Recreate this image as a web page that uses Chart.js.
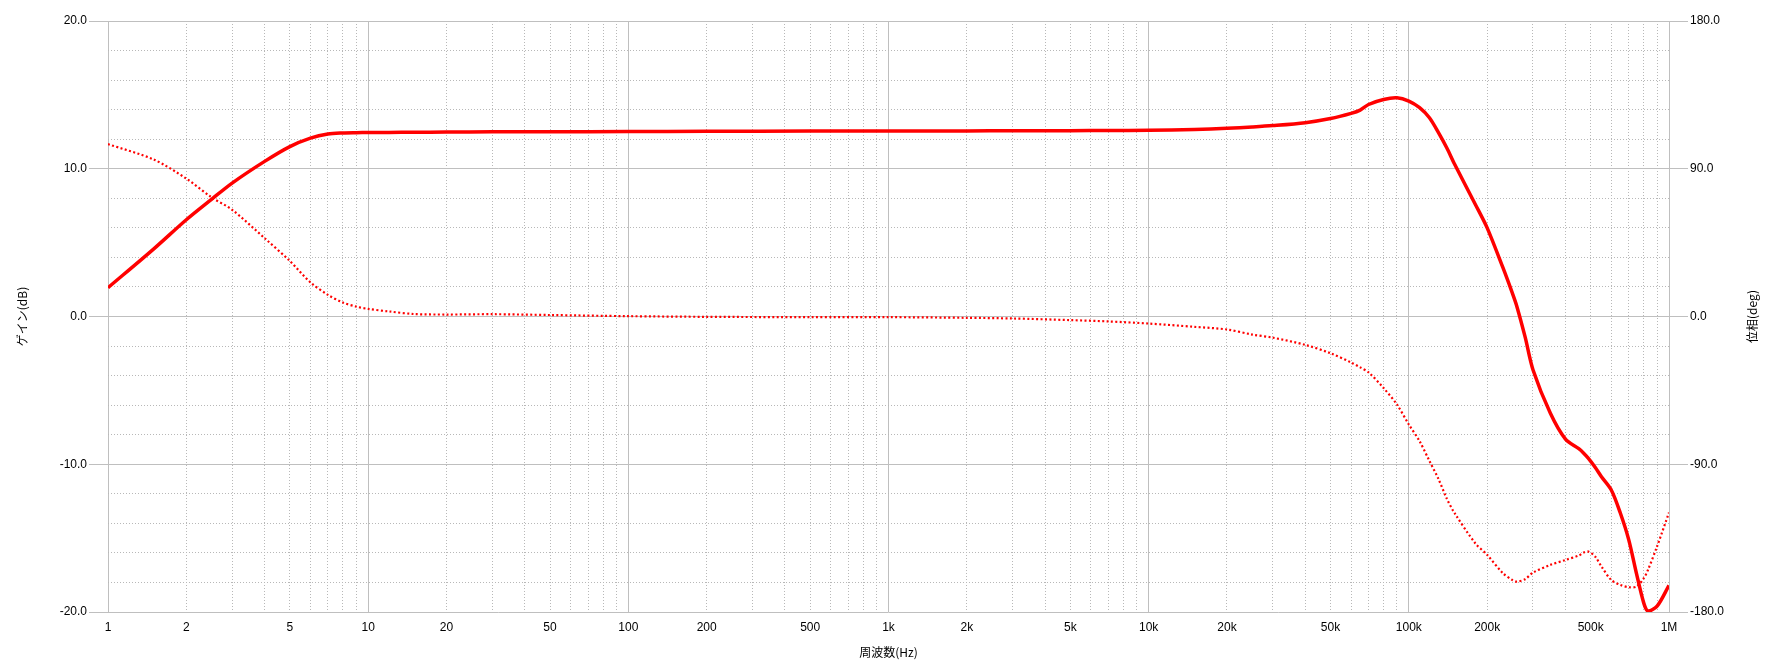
<!DOCTYPE html>
<html>
<head>
<meta charset="utf-8">
<script src="https://cdn.jsdelivr.net/npm/chart.js@4.4.1/dist/chart.umd.min.js"></script>
<style>
  body { margin: 0; background: #fff; }
  #wrap { width: 1780px; height: 670px; }
</style>
</head>
<body>
<div id="wrap"><canvas id="bode" width="1780" height="670"></canvas></div>
<script>
// frequency points (Hz)
var freq = [1, 1.5, 2, 2.5, 3, 4, 5, 6, 7, 8, 9, 10, 12, 15, 20, 30, 50, 100, 200, 500,
    1000, 2000, 3000, 5000, 7000, 10000, 15000, 20000, 25000, 30000, 40000, 50000,
    60000, 65000, 70000, 80000, 90000, 100000, 110000, 120000, 130000, 140000, 150000,
    180000, 200000, 230000, 250000, 260000, 280000, 300000, 350000, 400000, 450000, 470000,
    490000, 520000, 550000, 600000, 650000, 700000, 750000, 800000, 830000, 900000, 1000000];

// gain (dB), solid line, left axis
var gainDb = [1.95, 4.58, 6.55, 7.93, 9.03, 10.5, 11.5, 12.07, 12.35, 12.42, 12.44, 12.45,
    12.46, 12.47, 12.48, 12.5, 12.5, 12.52, 12.53, 12.55,
    12.55, 12.56, 12.57, 12.58, 12.59, 12.6, 12.66, 12.74, 12.83, 12.92, 13.12, 13.4,
    13.75, 13.97, 14.35, 14.69, 14.8, 14.58, 14.13, 13.45, 12.44, 11.4, 10.3,
    7.6, 6.0, 3.3, 1.58, 0.7, -1.4, -3.6, -6.55, -8.3, -8.95, -9.25,
    -9.6, -10.2, -10.84, -11.74, -13.3, -15.1, -17.4, -19.4, -19.93, -19.6, -18.2];

// phase (deg), dotted line, right axis
var phaseDeg = [105, 95.6, 84, 72.6, 65, 47.7, 33.8, 20.8, 13.2, 8.5, 6, 4.6,
    3.1, 1.5, 1.2, 1.4, 0.9, 0.2, -0.2, -0.4,
    -0.4, -0.8, -1.2, -2.2, -3, -4.3, -6.3, -7.9, -11, -12.9, -17.3, -22.4,
    -28, -31, -34, -43.6, -53.6, -65.8, -76, -88, -99, -111, -119.8,
    -138.1, -145.2, -156.4, -160.5, -161.5, -160, -156, -151.3, -148.3, -145.6, -143.8,
    -143.2, -146.2, -152.3, -160.5, -163.5, -164.9, -164.5, -159.4, -154.4, -140, -119.4];

// x axis labels
var xLabelValues = [1, 2, 5, 10, 20, 50, 100, 200, 500, 1000, 2000, 5000,
    10000, 20000, 50000, 100000, 200000, 500000, 1000000];
var xLabelText = ['1', '2', '5', '10', '20', '50', '100', '200', '500', '1k', '2k', '5k',
    '10k', '20k', '50k', '100k', '200k', '500k', '1M'];

var decades = [1, 10, 100, 1000, 10000, 100000];
var steps = [1, 2, 3, 4, 5, 6, 7, 8, 9];

var gridSolid = '#bfbfbf';
var gridDot = '#b8b8b8';
var tickFont = { family: '"Liberation Sans", Arial, sans-serif', size: 12 };
var titleFont = { family: '"Noto Sans CJK JP", sans-serif', size: 12 };

function logGridTicks(scale) {
    var list = [];
    decades.forEach(function (d) {
        steps.forEach(function (s) { list.push({ value: d * s }); });
    });
    list.push({ value: 1000000 });
    scale.ticks = list;
}

function isDecade(v) {
    var l = Math.log10(v);
    return Math.abs(l - Math.round(l)) < 1e-9;
}

function xy(ys) {
    return freq.map(function (f, i) { return { x: f, y: ys[i] }; });
}

var rightTitle = {
    id: 'rightTitle',
    afterDraw: function (chart) {
        var ctx = chart.ctx;
        var a = chart.chartArea;
        ctx.save();
        ctx.translate(1752, (a.top + a.bottom) / 2);
        ctx.rotate(-Math.PI / 2);
        ctx.font = '12px "Noto Sans CJK JP", sans-serif';
        ctx.fillStyle = '#000';
        ctx.textAlign = 'center';
        ctx.textBaseline = 'middle';
        ctx.fillText('位相(deg)', 0, 0);
        ctx.restore();
    }
};

var ctx = document.getElementById('bode').getContext('2d');
var myChart = new Chart(ctx, {
    type: 'line',
    data: {
        datasets: [{
            label: 'ゲイン',
            data: xy(gainDb),
            yAxisID: 'y',
            xAxisID: 'x',
            borderColor: '#ff0000',
            borderWidth: 3.5,
            pointRadius: 0,
            fill: false,
            tension: 0.3
        }, {
            label: '位相',
            data: xy(phaseDeg),
            yAxisID: 'y2',
            xAxisID: 'x',
            borderColor: '#ff0000',
            borderWidth: 2.2,
            borderDash: [2, 2.4],
            pointRadius: 0,
            fill: false,
            tension: 0.3
        }]
    },
    options: {
        responsive: false,
        animation: false,
        layout: { padding: { top: 21, left: 0, right: 0, bottom: 0 } },
        plugins: { legend: { display: false }, tooltip: { enabled: false } },
        scales: {
            x: {
                type: 'logarithmic',
                position: 'bottom',
                min: 1,
                max: 1000000,
                afterBuildTicks: logGridTicks,
                afterFit: function (s) { s.height = 58; },
                border: { display: false },
                grid: {
                    drawTicks: false,
                    lineWidth: 1,
                    color: function (c) { return c.tick && isDecade(c.tick.value) ? gridSolid : 'rgba(0,0,0,0)'; }
                },
                ticks: {
                    autoSkip: false,
                    maxRotation: 0,
                    padding: 8,
                    color: '#000',
                    font: tickFont,
                    callback: function (v) {
                        var i = xLabelValues.indexOf(v);
                        return i < 0 ? '' : xLabelText[i];
                    }
                },
                title: { display: true, text: '周波数(Hz)', color: '#000', font: titleFont, padding: { top: 0, bottom: 10 } }
            },
            xMinor: {
                type: 'logarithmic',
                position: 'bottom',
                min: 1,
                max: 1000000,
                afterBuildTicks: logGridTicks,
                afterFit: function (s) { s.height = 0; },
                border: { display: false, dash: [1, 2] },
                grid: {
                    drawTicks: false,
                    color: function (c) { return c.tick && !isDecade(c.tick.value) ? gridDot : 'rgba(0,0,0,0)'; }
                },
                ticks: { display: false }
            },
            y: {
                position: 'left',
                min: -20,
                max: 20,
                afterFit: function (s) { s.width = 108; },
                border: { display: false },
                grid: { color: gridSolid, tickColor: gridSolid, tickLength: 19 },
                ticks: {
                    stepSize: 10,
                    padding: 2,
                    color: '#000',
                    font: tickFont,
                    callback: function (v) { return v.toFixed(1); }
                },
                title: { display: true, text: 'ゲイン(dB)', color: '#000', font: titleFont, padding: { top: 15, bottom: 0 } }
            },
            yMinor: {
                position: 'left',
                min: -20,
                max: 20,
                afterFit: function (s) { s.width = 0; },
                border: { display: false, dash: [1, 2] },
                grid: {
                    drawTicks: false,
                    color: function (c) { return c.tick && c.tick.value % 10 !== 0 ? gridDot : 'rgba(0,0,0,0)'; }
                },
                ticks: { display: false, stepSize: 2 }
            },
            y2: {
                position: 'right',
                min: -180,
                max: 180,
                afterFit: function (s) { s.width = 111; },
                border: { display: false },
                grid: { drawOnChartArea: false, color: gridSolid, tickColor: gridSolid, tickLength: 19 },
                ticks: {
                    stepSize: 90,
                    padding: 2,
                    color: '#000',
                    font: tickFont,
                    callback: function (v) { return v.toFixed(1); }
                }
            }
        }
    },
    plugins: [rightTitle]
});
</script>
</body>
</html>
